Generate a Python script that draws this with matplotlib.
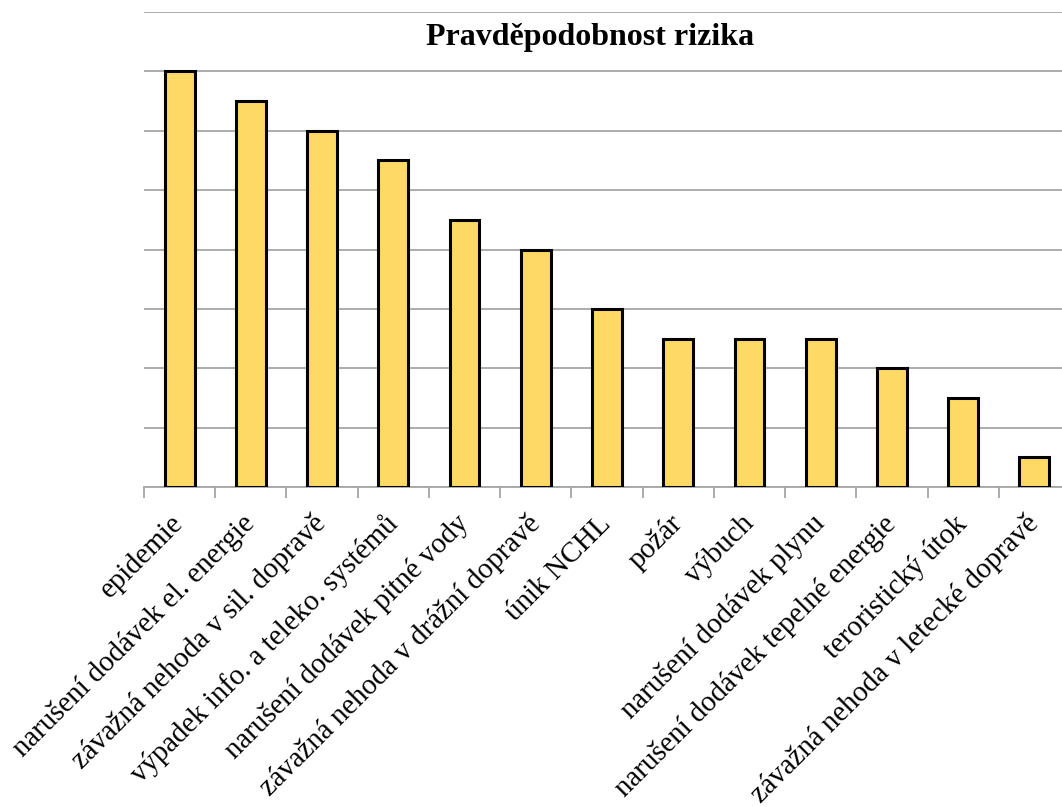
import matplotlib
matplotlib.use("Agg")
import matplotlib.pyplot as plt
import numpy as np

categories = [
    "epidemie",
    "narušení dodávek el. energie",
    "závažná nehoda v sil. dopravě",
    "výpadek info. a teleko. systémů",
    "narušení dodávek pitné vody",
    "závažná nehoda v drážní dopravě",
    "únik NCHL",
    "požár",
    "výbuch",
    "narušení dodávek plynu",
    "narušení dodávek tepelné energie",
    "teroristický útok",
    "závažná nehoda v letecké dopravě",
]
values = [7, 6.5, 6, 5.5, 4.5, 4, 3, 2.5, 2.5, 2.5, 2, 1.5, 0.5]
title = "Pravděpodobnost rizika"

plt.rcParams['font.family'] = ['Liberation Serif', 'DejaVu Serif']

W, H = 1062, 807
fig = plt.figure(figsize=(W / 100, H / 100), dpi=100)
left, right, top, bottom = 144, 1070, 12, 487
ax = fig.add_axes([left / W, (H - bottom) / H, (right - left) / W, (bottom - top) / H])

x = np.arange(len(categories))
ax.bar(x, values, width=0.42, color='#FFD966', edgecolor='black', linewidth=2.2, zorder=3)

ax.set_xlim(-0.5, len(categories) - 0.5)
ax.set_ylim(0, 8)
ax.set_yticks(np.arange(0, 9, 1))
ax.yaxis.grid(True, color='#A6A6A6', linewidth=1.3)
ax.set_axisbelow(True)
ax.tick_params(axis='y', length=0, labelleft=False)

for s in ['left', 'right', 'top']:
    ax.spines[s].set_visible(False)
ax.spines['bottom'].set_color('#A6A6A6')
ax.spines['bottom'].set_linewidth(1.3)

ax.set_xticks(x)
ax.set_xticklabels(categories, rotation=45, ha='right', va='center', rotation_mode='anchor', fontsize=20.8)
ax.tick_params(axis='x', which='major', length=0, pad=23.5)
ax.set_xticks(np.arange(-0.5, len(categories), 1), minor=True)
ax.tick_params(axis='x', which='minor', length=8, width=1.3, color='#A6A6A6', direction='out')

fig.text(590 / W, 1 - 37 / H, title, ha='center', va='center', fontsize=23, fontweight='bold')

fig.savefig("out.png", dpi=100)
